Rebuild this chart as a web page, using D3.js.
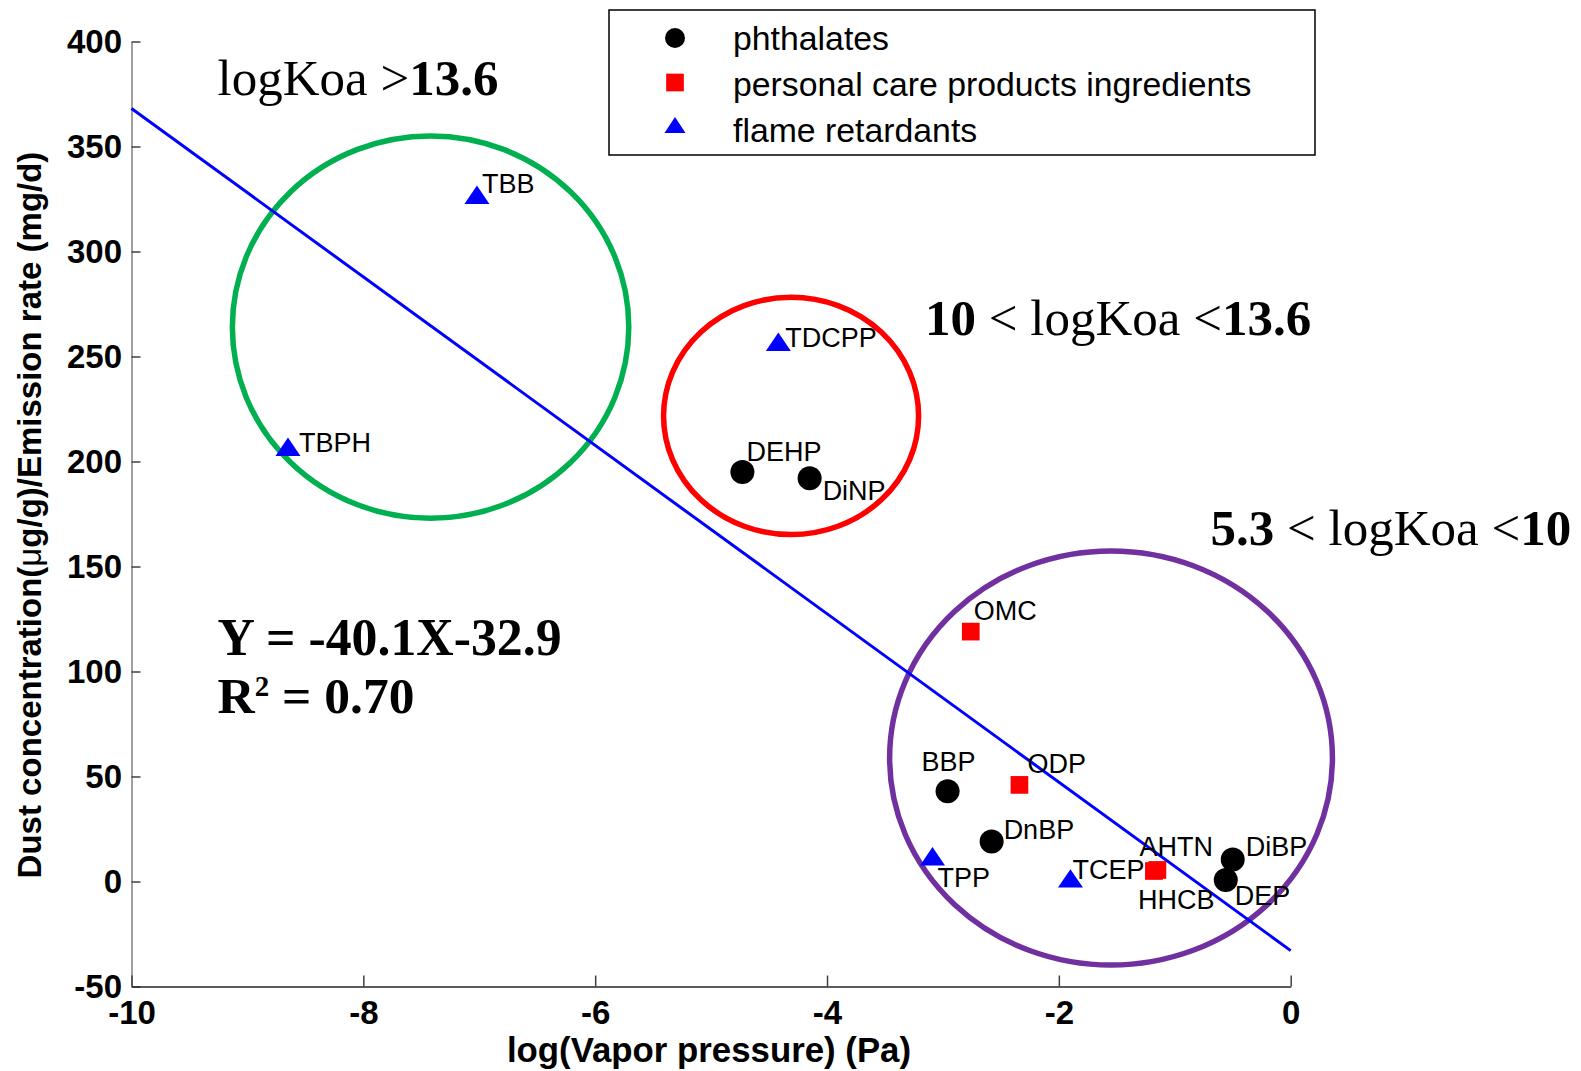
<!DOCTYPE html>
<html>
<head>
<meta charset="utf-8">
<title>Dust concentration vs vapor pressure</title>
<script src="https://d3js.org/d3.v7.min.js"></script>
<style>
html, body {
	margin: 0;
	padding: 0;
	background: #fff;
}
svg text {
	font-family: "Liberation Sans", Arial, sans-serif;
}
.serif {
	font-family: "Liberation Serif", "Times New Roman", serif !important;
}
</style>
</head>
<body>
<div id="chart"></div>
<script>
	// ---- data ----
	var categories = ["phthalates", "personal care products ingredients", "flame retardants"];

	var phthalateNames = ["DEHP", "DiNP", "BBP", "DnBP", "DiBP", "DEP"];
	var phthalateLogVP = [-4.73, -4.15, -2.96, -2.58, -0.50, -0.56];
	var phthalateDust  = [195, 192, 43, 19, 10.5, 0.7];

	var pcpNames = ["OMC", "ODP", "AHTN", "HHCB"];
	var pcpLogVP = [-2.76, -2.34, -1.15, -1.18];
	var pcpDust  = [119, 46, 5.5, 5.0];

	var frNames = ["TBB", "TBPH", "TDCPP", "TPP", "TCEP"];
	var frLogVP = [-7.02, -8.65, -4.42, -3.09, -1.90];
	var frDust  = [327, 207, 257, 12, 1.5];

	// regression Y = -40.1X - 32.9
	var fitSlope = -40.1;
	var fitIntercept = -32.9;

	// koa groups (ellipses in data units)
	var groupCx = [-7.42, -4.31, -1.55];
	var groupCy = [264, 221.7, 58.8];
	var groupRx = [1.71, 1.10, 1.91];
	var groupRy = [91, 56.5, 98.6];

	var xTicks = [-10, -8, -6, -4, -2, 0];
	var yTicks = [-50, 0, 50, 100, 150, 200, 250, 300, 350, 400];

	// ---- layout ----
	var W = 1581, H = 1071;
	var colors = {"phthalates": "#000000", "personal care products ingredients": "#ff0000", "flame retardants": "#0000ff"};
	var groupColors = ["#00b050", "#ff0000", "#7030a0"];

	// label offsets in pixels (text start / baseline relative to the marker)
	var labelShift = {
		TBB: [5, -1.5], TBPH: [11, 5], TDCPP: [7, 5], DEHP: [4, -11], DiNP: [13, 22],
		OMC: [3, -12], BBP: [-26, -20], ODP: [8, -12], DnBP: [12, -3], TPP: [5, 31],
		TCEP: [2, 1], AHTN: [-18, -14], HHCB: [-16, 38], DiBP: [13, -3], DEP: [9, 25]
	};
	// legend marker nudges (vertical, px)
	var legendNudge = [0, -1.5, -5];

	var x = d3.scaleLinear().domain([-10, 0]).range([131.5, 1290.7]);
	var y = d3.scaleLinear().domain([-50, 400]).range([986.5, 41.5]);

	var points = [];
	phthalateNames.forEach((n, i) => points.push({name: n, cat: categories[0], vx: phthalateLogVP[i], vy: phthalateDust[i]}));
	pcpNames.forEach((n, i) => points.push({name: n, cat: categories[1], vx: pcpLogVP[i], vy: pcpDust[i]}));
	frNames.forEach((n, i) => points.push({name: n, cat: categories[2], vx: frLogVP[i], vy: frDust[i]}));

	function markerPath(cat, big) {
		if (cat === categories[0]) {
			var r = big ? 12 : 10;
			return d3.symbol().type(d3.symbolCircle).size(Math.PI * r * r)();
		} else if (cat === categories[1]) {
			var s = 17.7 / 2;
			return `M${-s},${-s}H${s}V${s}H${-s}Z`;
		} else {
			var w = big ? 12.5 : 10.5, h = big ? 9.2 : 8;
			return `M${-w},${h}L${w},${h}L0,${-h}Z`;
		}
	}

	var svg = d3.select("#chart").append("svg")
		.attr("width", W)
		.attr("height", H);

	// axes (plain hyphen for negatives, as in the original)
	var yAxis = d3.axisLeft(y).tickValues(yTicks).tickFormat(d => String(d))
		.tickSizeInner(-9).tickSizeOuter(0).tickPadding(9.5);
	var gy = svg.append("g")
		.attr("transform", `translate(${x.range()[0]},0)`)
		.call(yAxis);
	gy.select(".domain").attr("stroke", "#808080").attr("stroke-width", 1.5);
	gy.selectAll(".tick line").attr("stroke", "#404040").attr("stroke-width", 1.5);
	gy.selectAll(".tick text")
		.attr("font-size", 33)
		.attr("font-weight", "bold")
		.attr("font-family", "Liberation Sans, Arial, sans-serif")
		.attr("fill", "#000");

	var xAxis = d3.axisBottom(x).tickValues(xTicks).tickFormat(d => String(d))
		.tickSizeInner(-11).tickSizeOuter(0).tickPadding(14);
	var gx = svg.append("g")
		.attr("transform", `translate(0,${y.range()[0]})`)
		.call(xAxis);
	gx.select(".domain").attr("stroke", "#262626").attr("stroke-width", 1.5);
	gx.selectAll(".tick line").attr("stroke", "#404040").attr("stroke-width", 1.5);
	gx.selectAll(".tick text")
		.attr("font-size", 33)
		.attr("font-weight", "bold")
		.attr("font-family", "Liberation Sans, Arial, sans-serif")
		.attr("fill", "#000");

	// axis titles
	svg.append("text")
		.attr("x", 709)
		.attr("y", 1061.5)
		.attr("text-anchor", "middle")
		.attr("font-size", 34.8)
		.attr("font-weight", "bold")
		.text("log(Vapor pressure) (Pa)");

	var yt = svg.append("text")
		.attr("transform", "translate(40.5,515) rotate(-90)")
		.attr("text-anchor", "middle")
		.attr("font-size", 33)
		.attr("font-weight", "bold");
	yt.append("tspan").text("Dust concentration(");
	yt.append("tspan").attr("font-weight", "normal").text("\u03bc");
	yt.append("tspan").text("g/g)/Emission rate (mg/d)");

	// ellipses
	svg.append("g")
		.selectAll("ellipse")
		.data(groupCx)
		.join("ellipse")
			.attr("cx", d => x(d))
			.attr("cy", (d, i) => y(groupCy[i]))
			.attr("rx", (d, i) => x(d + groupRx[i]) - x(d))
			.attr("ry", (d, i) => y(0) - y(groupRy[i]))
			.attr("fill", "none")
			.attr("stroke", (d, i) => groupColors[i])
			.attr("stroke-width", 5.5);

	// regression line
	var fit = d3.line()
		.x(d => x(d))
		.y(d => y(fitSlope * d + fitIntercept));
	svg.append("path")
		.datum(x.domain())
		.attr("d", fit)
		.attr("fill", "none")
		.attr("stroke", "#0000ff")
		.attr("stroke-width", 3);

	// markers
	svg.append("g")
		.selectAll("path")
		.data(points)
		.join("path")
			.attr("transform", d => `translate(${x(d.vx)},${y(d.vy)})`)
			.attr("d", d => markerPath(d.cat, true))
			.attr("fill", d => colors[d.cat]);

	// point labels
	svg.append("g")
		.selectAll("text")
		.data(points)
		.join("text")
			.attr("x", d => x(d.vx) + labelShift[d.name][0])
			.attr("y", d => y(d.vy) + labelShift[d.name][1])
			.attr("font-size", 27)
			.attr("fill", "#000")
			.text(d => d.name);

	// annotations (Times)
	var a1 = svg.append("text").attr("class", "serif").attr("x", 217.5).attr("y", 94.5).attr("font-size", 51);
	a1.append("tspan").text("logKoa >");
	a1.append("tspan").attr("font-weight", "bold").text("13.6");

	var a2 = svg.append("text").attr("class", "serif").attr("x", 925).attr("y", 335).attr("font-size", 51);
	a2.append("tspan").attr("font-weight", "bold").text("10");
	a2.append("tspan").text(" < logKoa <");
	a2.append("tspan").attr("font-weight", "bold").text("13.6");

	var a3 = svg.append("text").attr("class", "serif").attr("x", 1210.5).attr("y", 544.5).attr("font-size", 51);
	a3.append("tspan").attr("font-weight", "bold").text("5.3");
	a3.append("tspan").text(" < logKoa <");
	a3.append("tspan").attr("font-weight", "bold").text("10");

	svg.append("text").attr("class", "serif")
		.attr("x", 217.5).attr("y", 655)
		.attr("font-size", 51.8).attr("font-weight", "bold")
		.text(`Y = ${fitSlope}X${fitIntercept}`);

	var r2 = svg.append("text").attr("class", "serif")
		.attr("x", 217.5).attr("y", 712.5)
		.attr("font-size", 51.5).attr("font-weight", "bold");
	r2.append("tspan").text("R");
	r2.append("tspan").attr("font-size", 29).attr("dy", -17).text("2");
	r2.append("tspan").attr("dy", 17).text(" = 0.70");

	// legend
	var legend = svg.append("g");
	legend.append("rect")
		.attr("x", 609).attr("y", 10)
		.attr("width", 706).attr("height", 145)
		.attr("fill", "#fff")
		.attr("stroke", "#000")
		.attr("stroke-width", 1.5);
	var rows = legend.selectAll("g.row")
		.data(categories)
		.join("g")
			.attr("class", "row")
			.attr("transform", (d, i) => `translate(0,${38 + i * 46})`);
	rows.append("path")
		.attr("transform", (d, i) => `translate(675,${legendNudge[i]})`)
		.attr("d", d => markerPath(d, false))
		.attr("fill", d => colors[d]);
	rows.append("text")
		.attr("x", 733)
		.attr("y", 11.5)
		.attr("font-size", 33.8)
		.attr("fill", "#000")
		.text(d => d);
</script>
</body>
</html>
